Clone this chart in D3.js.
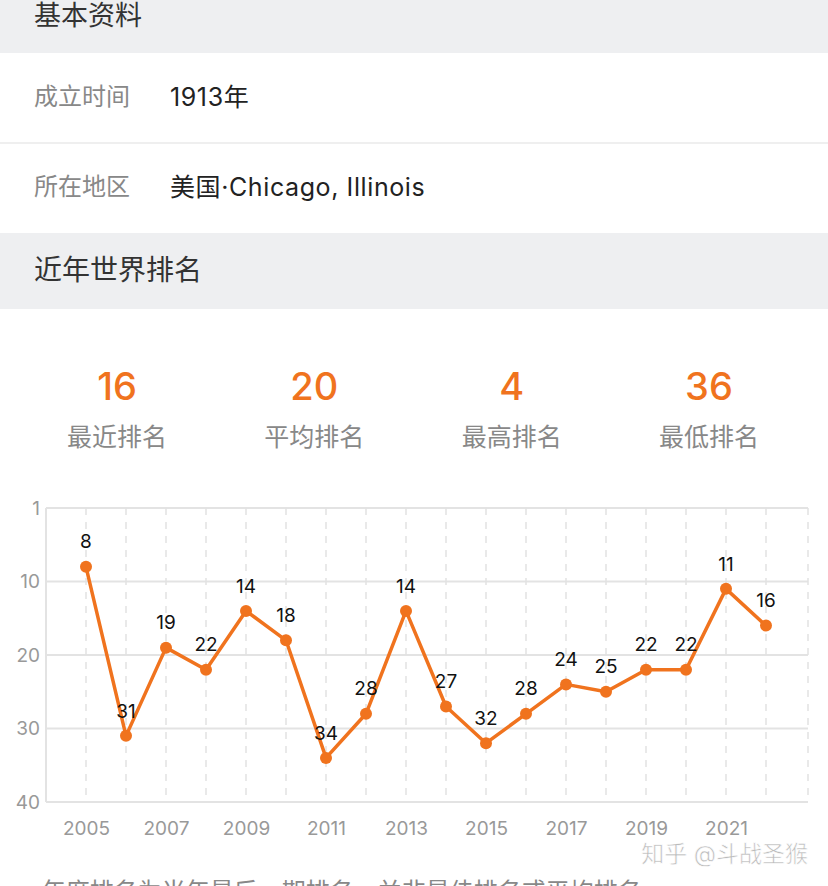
<!DOCTYPE html>
<html><head><meta charset="utf-8">
<script src="https://cdn.jsdelivr.net/npm/d3@7"></script>
<style>
html,body{margin:0;padding:0;background:#fff;overflow:hidden;}
svg{display:block;}
</style></head>
<body>
<svg id="c" width="828" height="886"></svg>
<script>
const years = [2005,2006,2007,2008,2009,2010,2011,2012,2013,2014,2015,2016,2017,2018,2019,2020,2021,2022];
const ranks = [8,31,19,22,14,18,34,28,14,27,32,28,24,25,22,22,11,16];
const yTickValues = [0,10,20,30,40];
const yTickLabels = ["1","10","20","30","40"];
const xTickYears = [2005,2007,2009,2011,2013,2015,2017,2019,2021];
const statValues = ["16","20","4","36"];
const statLabels = ["最近排名","平均排名","最高排名","最低排名"];
const infoKeys = ["成立时间","所在地区"];
const infoVals = ["1913年","美国·Chicago, Illinois"];

const FONT = "Inter,'Noto Sans CJK SC','Noto Sans',sans-serif";
const ORANGE = "#f0731e";
const svg = d3.select("#c").style("font-family", FONT);

// section bands
svg.append("rect").attr("x",0).attr("y",0).attr("width",828).attr("height",53).attr("fill","#eeeff1");
svg.append("text").attr("x",34).attr("y",25).attr("font-size",27).attr("fill","#333").text("基本资料");

const rowY = [97,187];
infoKeys.forEach((k,i)=>{
  svg.append("text").attr("x",34).attr("y",rowY[i]).attr("dy","0.35em").attr("font-size",24).attr("fill","#888").text(k);
  svg.append("text").attr("x",170).attr("y",rowY[i]).attr("dy","0.35em").attr("font-size",25)
    .attr("letter-spacing",0.6).attr("fill","#222").text(infoVals[i]);
});
svg.append("rect").attr("x",0).attr("y",142).attr("width",828).attr("height",2).attr("fill","#efefef");

svg.append("rect").attr("x",0).attr("y",233).attr("width",828).attr("height",76).attr("fill","#eeeff1");
svg.append("text").attr("x",34).attr("y",270).attr("dy","0.35em").attr("font-size",28).attr("fill","#333").text("近年世界排名");

// stats
const statX = d3.scalePoint().domain(d3.range(4)).range([117,709]);
statValues.forEach((v,i)=>{
  svg.append("text").attr("x",statX(i)).attr("y",387).attr("dy","0.35em").attr("text-anchor","middle")
    .attr("font-size",38).attr("font-weight",500).attr("fill",ORANGE).text(v);
  svg.append("text").attr("x",statX(i)).attr("y",437).attr("dy","0.35em").attr("text-anchor","middle")
    .attr("font-size",25).attr("fill","#888").text(statLabels[i]);
});

// chart
const L=46, R=808, T=508, B=802;
const x = d3.scalePoint().domain(years).range([86,766]);
const y = d3.scaleLinear().domain([0,40]).range([T,B]);
const g = svg.append("g");

// horizontal grid
g.selectAll(".hg").data(yTickValues).join("line")
  .attr("x1",L).attr("x2",R).attr("y1",d=>y(d)).attr("y2",d=>y(d))
  .attr("stroke","#e3e3e3").attr("stroke-width",2);
// vertical dashed grid
g.selectAll(".vg").data(years).join("line")
  .attr("x1",d=>x(d)).attr("x2",d=>x(d)).attr("y1",T).attr("y2",B)
  .attr("stroke","#e2e2e2").attr("stroke-width",1.5).attr("stroke-dasharray","7,7");
g.append("line").attr("x1",R).attr("x2",R).attr("y1",T).attr("y2",B)
  .attr("stroke","#e2e2e2").attr("stroke-width",1.5).attr("stroke-dasharray","7,7");
g.append("line").attr("x1",L).attr("x2",L).attr("y1",T).attr("y2",B)
  .attr("stroke","#e3e3e3").attr("stroke-width",2);

// axes
const yAxis = d3.axisLeft(y).tickValues(yTickValues).tickSize(0).tickPadding(6)
  .tickFormat((d,i)=>yTickLabels[i]);
const ya = svg.append("g").attr("transform",`translate(${L},0)`).call(yAxis);
ya.select(".domain").remove();
ya.selectAll("text").attr("font-size",19).attr("fill","#999").attr("font-family",FONT);

const xAxis = d3.axisBottom(x).tickValues(xTickYears).tickSize(0).tickPadding(20);
const xa = svg.append("g").attr("transform",`translate(0,${B})`).call(xAxis);
xa.select(".domain").remove();
xa.selectAll("text").attr("font-size",19).attr("fill","#999").attr("font-family",FONT);

// line
const line = d3.line().x((d,i)=>x(years[i])).y(d=>y(d));
svg.append("path").datum(ranks).attr("d",line).attr("fill","none")
  .attr("stroke",ORANGE).attr("stroke-width",3.5).attr("stroke-linejoin","round");
svg.selectAll(".pt").data(ranks).join("circle")
  .attr("cx",(d,i)=>x(years[i])).attr("cy",d=>y(d)).attr("r",6).attr("fill",ORANGE);
svg.selectAll(".lbl").data(ranks).join("text")
  .attr("x",(d,i)=>x(years[i])).attr("y",d=>y(d)-25).attr("dy","0.35em")
  .attr("text-anchor","middle").attr("font-size",19).attr("fill","#111").text(d=>d);

// watermark
svg.append("text").attr("x",808).attr("y",854).attr("dy","0.35em").attr("text-anchor","end")
  .attr("font-size",23).attr("fill","#bbb").attr("stroke","#fff").attr("stroke-width",0.6)
  .text("知乎 @斗战圣猴");

// footnote (clipped at bottom)
svg.append("text").attr("x",28).attr("y",900).attr("font-size",24).attr("fill","#888")
  .text("· 年度排名为当年最后一期排名，并非最佳排名或平均排名");
</script>
</body></html>
